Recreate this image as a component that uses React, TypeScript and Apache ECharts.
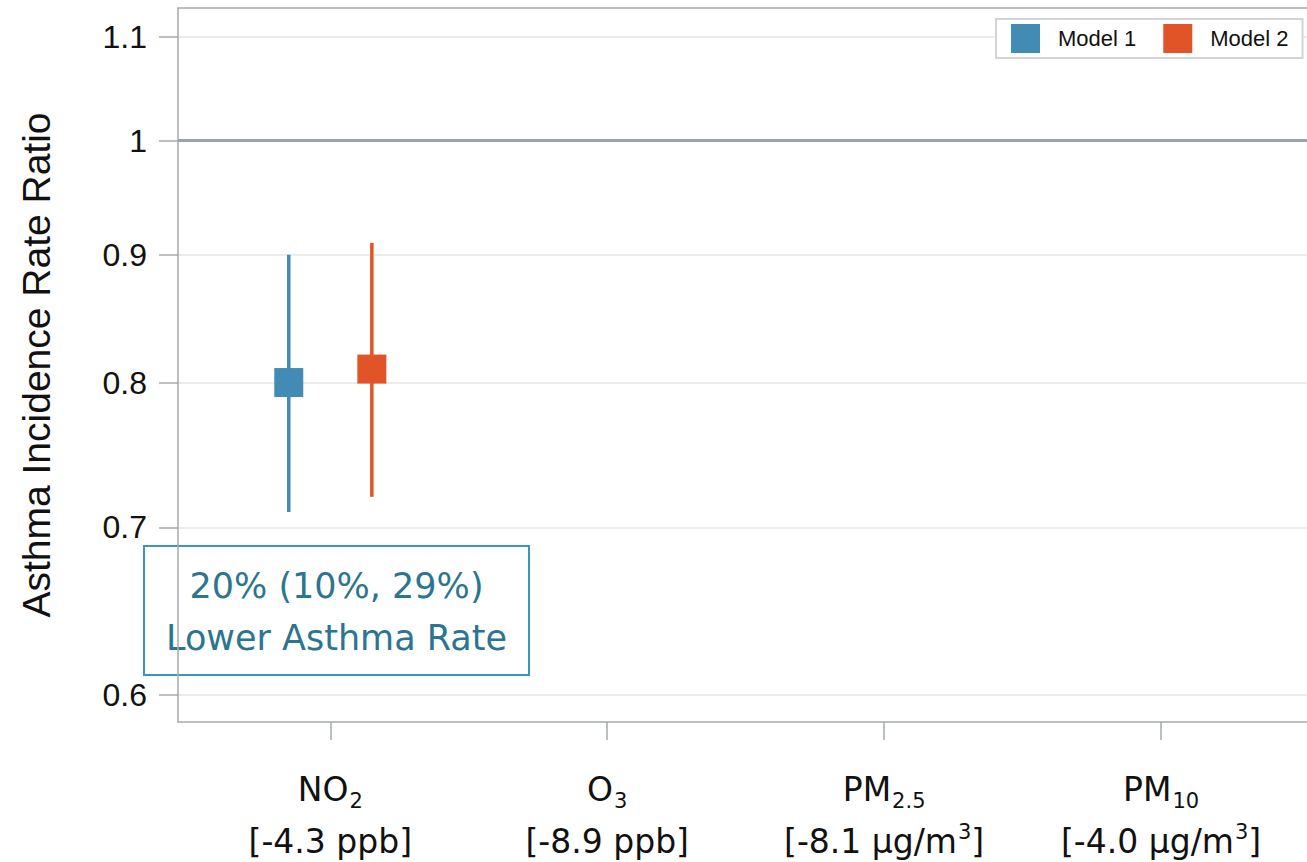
import React, { useEffect, useRef } from "react";
import * as echarts from "echarts";

// ---- data ----
const categoryBase = ["NO", "O", "PM", "PM"];
const categorySub = ["2", "3", "2.5", "10"];
const exposureValue = ["-4.3", "-8.9", "-8.1", "-4.0"];
const exposureUnit = ["ppb", "ppb", "μg/m", "μg/m"];
const exposureUnitSup = ["", "", "3", "3"];

const model1Estimate: (number | null)[] = [0.8, null, null, null];
const model1Lower: (number | null)[] = [0.71, null, null, null];
const model1Upper: (number | null)[] = [0.9, null, null, null];

const model2Estimate: (number | null)[] = [0.81, null, null, null];
const model2Lower: (number | null)[] = [0.72, null, null, null];
const model2Upper: (number | null)[] = [0.91, null, null, null];

const yTicks = [0.6, 0.7, 0.8, 0.9, 1, 1.1];
const referenceValue = 1;
const yRange = [0.585, 1.13];
const xRange = [0.45, 4.527];
const modelOffsets = [-0.15, 0.15];

const annotationLines = ["20% (10%, 29%)", "Lower Asthma Rate"];

const BLUE = "#428bb5";
const ORANGE = "#e05427";
const AXIS = "#a6aaae";
const FUTURA = "'DejaVu Sans', sans-serif";
const ARIAL = "'Liberation Sans', Arial, sans-serif";

function pointData(est: (number | null)[], offset: number) {
  const out: number[][] = [];
  est.forEach((v, i) => {
    if (v != null) out.push([i + 1 + offset, Math.log(v)]);
  });
  return out;
}
function barData(lo: (number | null)[], hi: (number | null)[], offset: number) {
  const out: number[][] = [];
  lo.forEach((v, i) => {
    const h = hi[i];
    if (v != null && h != null) out.push([i + 1 + offset, Math.log(v), Math.log(h)]);
  });
  return out;
}

function errorBarSeries(name: string, color: string, data: number[][]) {
  return {
    name,
    type: "custom",
    data,
    encode: { x: 0, y: [1, 2] },
    z: 2,
    renderItem: (_params: any, api: any) => {
      const x = api.value(0);
      const p1 = api.coord([x, api.value(1)]);
      const p2 = api.coord([x, api.value(2)]);
      return {
        type: "line",
        shape: { x1: p1[0], y1: p1[1], x2: p2[0], y2: p2[1] },
        style: { stroke: color, lineWidth: 3.5 },
      };
    },
  };
}

function fmtTick(v: number) {
  const r = Math.round(Math.exp(v) * 10) / 10;
  return String(r);
}

export default function App() {
  const ref = useRef<HTMLDivElement>(null);
  useEffect(() => {
    if (!ref.current) return;
    const chart = echarts.init(ref.current, undefined, { renderer: "svg" });
    const option: any = {
      animation: false,
      backgroundColor: "#ffffff",
      grid: { left: 178, top: 8, right: 0, bottom: 140, containLabel: false },
      legend: {
        data: ["Model 1", "Model 2"],
        left: 996,
        top: 19,
        icon: "rect",
        itemWidth: 29,
        itemHeight: 29,
        itemGap: 27,
        padding: [5, 14, 5, 15],
        borderColor: "#d4d4d4",
        borderWidth: 2,
        backgroundColor: "#ffffff",
        textStyle: { fontFamily: ARIAL, fontSize: 22, color: "#111", padding: [0, 0, 0, 13] },
      },
      xAxis: [
        {
          type: "value",
          min: xRange[0],
          max: xRange[1],
          axisLine: { show: true, onZero: false, lineStyle: { color: AXIS, width: 1.5 } },
          axisTick: { show: true, length: 18, customValues: [1, 2, 3, 4], lineStyle: { color: AXIS, width: 1.5 } },
          splitLine: { show: false },
          axisLabel: {
            customValues: [1, 2, 3, 4],
            margin: 41,
            formatter: (v: number) => {
              const i = Math.round(v) - 1;
              const sup = exposureUnitSup[i] ? `{sup|${exposureUnitSup[i]}}` : "";
              return `{m|${categoryBase[i]}}{sub|${categorySub[i]}}\n{m|[${exposureValue[i]} ${exposureUnit[i]}}${sup}{m|]}`;
            },
            rich: {
              m: { fontFamily: FUTURA, fontSize: 33, color: "#111", lineHeight: 52 },
              sub: { fontFamily: FUTURA, fontSize: 21, color: "#111", padding: [23, 0, 0, 1] },
              sup: { fontFamily: FUTURA, fontSize: 21, color: "#111", padding: [0, 0, 19, 1] },
            },
          },
        },
        {
          type: "value",
          position: "top",
          min: xRange[0],
          max: xRange[1],
          axisLine: { show: true, onZero: false, lineStyle: { color: AXIS, width: 1.5 } },
          axisTick: { show: false },
          axisLabel: { show: false },
          splitLine: { show: false },
        },
      ],
      yAxis: {
        type: "value",
        min: Math.log(yRange[0]),
        max: Math.log(yRange[1]),
        name: "Asthma Incidence Rate Ratio",
        nameLocation: "middle",
        nameGap: 122,
        nameTextStyle: { fontFamily: ARIAL, fontSize: 39, color: "#111" },
        axisLine: { show: true, onZero: false, lineStyle: { color: AXIS, width: 1.5 } },
        axisTick: {
          show: true,
          length: 19,
          customValues: yTicks.map((t) => Math.log(t)),
          lineStyle: { color: AXIS, width: 1.5 },
        },
        axisLabel: {
          customValues: yTicks.map((t) => Math.log(t)),
          margin: 31,
          fontFamily: ARIAL,
          fontSize: 32,
          color: "#111",
          formatter: fmtTick,
        },
        splitLine: { show: true, lineStyle: { color: "#e6e6e6", width: 1.5 } },
      },
      series: [
        {
          ...errorBarSeries("Model 1 CI", BLUE, barData(model1Lower, model1Upper, modelOffsets[0])),
          markLine: {
            silent: true,
            symbol: "none",
            label: { show: false },
            lineStyle: { color: "#9da2a7", width: 3, type: "solid" },
            data: [{ yAxis: Math.log(referenceValue) }],
          },
        },
        errorBarSeries("Model 2 CI", ORANGE, barData(model2Lower, model2Upper, modelOffsets[1])),
        {
          name: "Model 1",
          type: "scatter",
          symbol: "rect",
          symbolSize: 29,
          z: 3,
          itemStyle: { color: BLUE, opacity: 1 },
          data: pointData(model1Estimate, modelOffsets[0]),
        },
        {
          name: "Model 2",
          type: "scatter",
          symbol: "rect",
          symbolSize: 29,
          z: 3,
          itemStyle: { color: ORANGE, opacity: 1 },
          data: pointData(model2Estimate, modelOffsets[1]),
        },
      ],
      graphic: [
        {
          type: "group",
          left: 143,
          top: 545,
          z: 100,
          children: [
            {
              type: "rect",
              shape: { x: 0, y: 0, width: 385, height: 129 },
              style: { fill: "#ffffff", stroke: "#3a97b8", lineWidth: 2 },
            },
            {
              type: "text",
              x: 192.5,
              y: 40,
              style: {
                text: annotationLines[0],
                fontFamily: FUTURA,
                fontSize: 35,
                fill: "#2b7590",
                align: "center",
                verticalAlign: "middle",
              },
            },
            {
              type: "text",
              x: 192.5,
              y: 92,
              style: {
                text: annotationLines[1],
                fontFamily: FUTURA,
                fontSize: 35,
                fill: "#2b7590",
                align: "center",
                verticalAlign: "middle",
              },
            },
          ],
        },
      ],
    };
    chart.setOption(option);
    return () => chart.dispose();
  }, []);
  return (
    <div
      ref={ref}
      style={{ position: "absolute", left: 0, top: 0, width: 1307, height: 862 }}
    />
  );
}
